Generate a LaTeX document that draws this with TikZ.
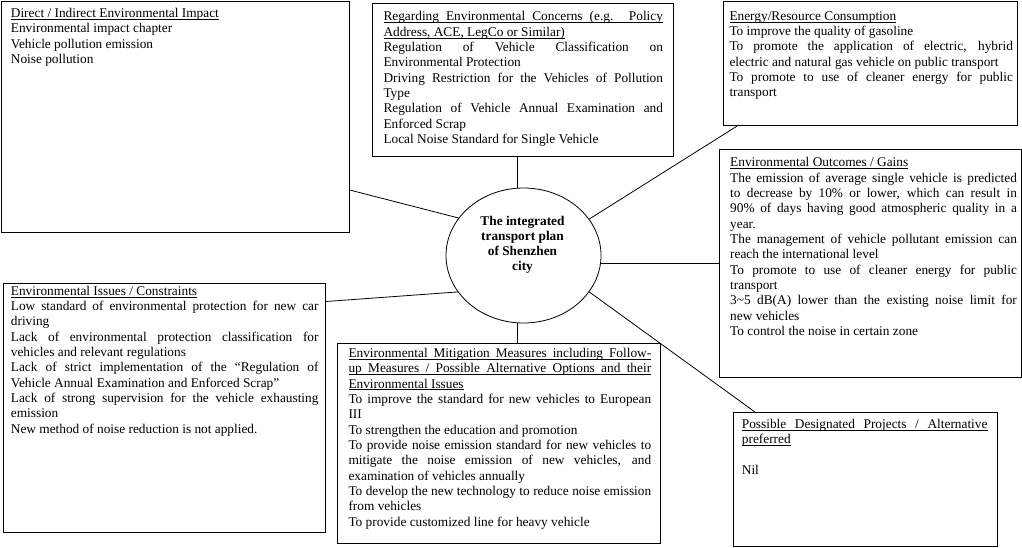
\documentclass[tikz,border=0pt]{standalone}
\usepackage{fontspec}
\setmainfont{Liberation Serif}
\usetikzlibrary{shapes.geometric}

\newsavebox{\hdbox}
\newcommand{\hd}[1]{\leavevmode\sbox{\hdbox}{#1}\rlap{\rule[-2pt]{\wd\hdbox}{0.7pt}}\usebox{\hdbox}}
\newcommand{\jl}[1]{\makebox[\linewidth][s]{#1}}
\newcommand{\pstart}{\spaceskip=0pt\xspaceskip=0pt\strut}

\tikzstyle{frame}=[draw, line width=1.1pt, anchor=north west, inner sep=0pt]
\tikzstyle{panel}=[anchor=north west, inner sep=0pt, align=left, font=\fontsize{13.33}{15.33}\selectfont]
\tikzstyle{link}=[line width=0.8pt]

\begin{document}
\begin{tikzpicture}[x=1pt, y=-1pt]
  \useasboundingbox (0,0) rectangle (1022,548);

  % frames
  \node[frame, minimum width=348pt, minimum height=231pt] (impact) at (1,1) {};
  \node[frame, minimum width=301pt, minimum height=153pt] (concerns) at (372,3) {};
  \node[frame, minimum width=294pt, minimum height=124pt] (energy) at (723,1) {};
  \node[frame, minimum width=302pt, minimum height=228pt] (outcomes) at (719,149) {};
  \node[frame, minimum width=322pt, minimum height=249pt] (issues) at (3,283) {};
  \node[frame, minimum width=323pt, minimum height=200pt] (mitigation) at (337,343) {};
  \node[frame, minimum width=264pt, minimum height=134pt] (designated) at (733,412) {};

  % texts
  \node[panel, text width=330pt] (impacttext) at ([xshift=9.7pt,yshift=-5.6pt]impact.north west)
    {\pstart\hd{Direct / Indirect Environmental Impact}\\
     Environmental impact chapter\\
     Vehicle pollution emission\\
     Noise pollution};
  \node[panel, text width=279.5pt] (concernstext) at ([xshift=11.3pt,yshift=-7pt]concerns.north west)
    {\pstart\hd{\jl{Regarding Environmental Concerns (e.g. Policy}}\\
     \hd{Address, ACE, LegCo or Similar)}\\
     \jl{Regulation of Vehicle Classification on}\\
     Environmental Protection\\
     \jl{Driving Restriction for the Vehicles of Pollution}\\
     Type\\
     \jl{Regulation of Vehicle Annual Examination and}\\
     Enforced Scrap\\
     Local Noise Standard for Single Vehicle};
  \node[panel, text width=283.4pt] (energytext) at ([xshift=6.3pt,yshift=-8.3pt]energy.north west)
    {\pstart\hd{Energy/Resource Consumption}\\
     To improve the quality of gasoline\\
     \jl{To promote the application of electric, hybrid}\\
     electric and natural gas vehicle on public transport\\
     \jl{To promote to use of cleaner energy for public}\\
     transport};
  \node[panel, text width=286.7pt] (outcomestext) at ([xshift=11pt,yshift=-7pt]outcomes.north west)
    {\pstart\hd{Environmental Outcomes / Gains}\\
     \jl{The emission of average single vehicle is predicted}\\
     \jl{to decrease by 10\% or lower, which can result in}\\
     \jl{90\% of days having good atmospheric quality in a}\\
     year.\\
     \jl{The management of vehicle pollutant emission can}\\
     reach the international level\\
     \jl{To promote to use of cleaner energy for public}\\
     transport\\
     \jl{3\textasciitilde5 dB(A) lower than the existing noise limit for}\\
     new vehicles\\
     To control the noise in certain zone};
  \node[panel, text width=307.6pt] (issuestext) at ([xshift=7.7pt,yshift=-1.3pt]issues.north west)
    {\pstart\hd{Environmental Issues / Constraints}\\
     \jl{Low standard of environmental protection for new car}\\
     driving\\
     \jl{Lack of environmental protection classification for}\\
     vehicles and relevant regulations\\
     \jl{Lack of strict implementation of the “Regulation of}\\
     Vehicle Annual Examination and Enforced Scrap”\\
     \jl{Lack of strong supervision for the vehicle exhausting}\\
     emission\\
     New method of noise reduction is not applied.};
  \node[panel, text width=302.7pt] (mitigationtext) at ([xshift=11.3pt,yshift=-3.6pt]mitigation.north west)
    {\pstart\hd{\jl{Environmental Mitigation Measures including Follow-}}\\
     \hd{\jl{up Measures / Possible Alternative Options and their}}\\
     \hd{Environmental Issues}\\
     \jl{To improve the standard for new vehicles to European}\\
     III\\
     To strengthen the education and promotion\\
     \jl{To provide noise emission standard for new vehicles to}\\
     \jl{mitigate the noise emission of new vehicles, and}\\
     examination of vehicles annually\\
     \jl{To develop the new technology to reduce noise emission}\\
     from vehicles\\
     To provide customized line for heavy vehicle};
  \node[panel, text width=245.6pt] (designatedtext) at ([xshift=8.7pt,yshift=-5.6pt]designated.north west)
    {\pstart\hd{\jl{Possible Designated Projects / Alternative}}\\
     \hd{preferred}\\
     \mbox{}\\
     Nil};

  % centre
  \node[draw, ellipse, line width=0.8pt, minimum width=155pt, minimum height=135pt, inner sep=0pt] (plan) at (523.5,255.5) {};
  \node[align=center, inner sep=0pt, font=\bfseries\fontsize{13.33}{15}\selectfont] (plantitle) at ([xshift=-1pt,yshift=11pt]plan.center)
    {The integrated\\transport plan\\of Shenzhen\\city};

  % connectors
  \draw[link] (plan.150.9) -- ([yshift=43pt]impact.south east);
  \draw[link] ([xshift=-5.5pt]concerns.south) -- ([xshift=-5.5pt]concerns.south |- plan.north);
  \draw[link] (plan.29.4) -- ([xshift=14pt]energy.south west);
  \draw[link] (plan.354.5) -- (plan.354.5 -| outcomes.west);
  \draw[link] (plan.209.3) -- ([yshift=-18.5pt]issues.north east);
  \draw[link] ([xshift=-6.5pt]plan.south) -- ([xshift=-6.5pt]plan.south |- mitigation.north);
  \draw[link] (plan.331) -- ([xshift=22pt]designated.north west);
\end{tikzpicture}
\end{document}
